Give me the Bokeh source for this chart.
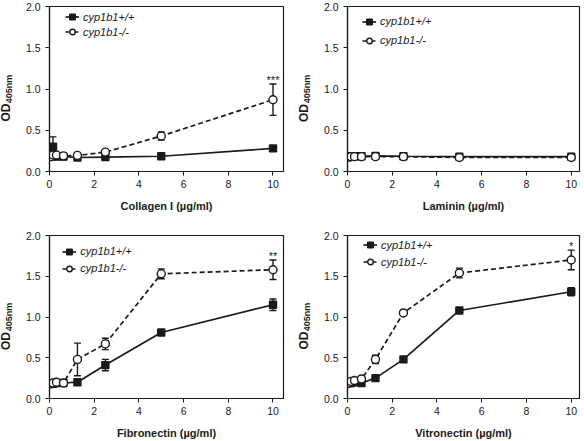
from bokeh.plotting import figure
from bokeh.models import (ColumnDataSource, Whisker, Label, Legend, LegendItem, Title,
                          FixedTicker, NumeralTickFormatter, Range1d, TeeHead)
from bokeh.layouts import gridplot
from bokeh.embed import file_html
from bokeh.resources import INLINE

# ---------------- data ----------------
conc = [0.078, 0.156, 0.3125, 0.625, 1.25, 2.5, 5, 10]
x_ticks = [0, 2, 4, 6, 8, 10]
y_ticks = [0.0, 0.5, 1.0, 1.5, 2.0]
series_names = ["cyp1b1+/+", "cyp1b1-/-"]
x_titles = ["Collagen I (\u00b5g/ml)", "Laminin (\u00b5g/ml)",
            "Fibronectin (\u00b5g/ml)", "Vitronectin (\u00b5g/ml)"]
y_title_main = "OD"
y_title_sub = "405nm"

collagen_wt = [0.18, 0.30, 0.18, 0.18, 0.17, 0.175, 0.185, 0.28]
collagen_wt_err = [0.01, 0.12, 0.01, 0.01, 0.01, 0.01, 0.01, 0.03]
collagen_ko = [0.18, 0.20, 0.20, 0.19, 0.195, 0.235, 0.43, 0.87]
collagen_ko_err = [0.01, 0.01, 0.01, 0.01, 0.01, 0.01, 0.05, 0.19]

laminin_wt = [0.18, 0.185, 0.185, 0.185, 0.19, 0.185, 0.18, 0.18]
laminin_wt_err = [0.01, 0.01, 0.01, 0.01, 0.01, 0.01, 0.01, 0.01]
laminin_ko = [0.175, 0.18, 0.18, 0.18, 0.18, 0.18, 0.17, 0.17]
laminin_ko_err = [0.01, 0.01, 0.01, 0.01, 0.01, 0.01, 0.01, 0.01]

fibronectin_wt = [0.18, 0.18, 0.19, 0.19, 0.20, 0.41, 0.81, 1.15]
fibronectin_wt_err = [0.01, 0.01, 0.01, 0.01, 0.01, 0.07, 0.03, 0.07]
fibronectin_ko = [0.18, 0.19, 0.20, 0.19, 0.48, 0.67, 1.53, 1.58]
fibronectin_ko_err = [0.01, 0.01, 0.01, 0.01, 0.20, 0.07, 0.06, 0.12]

vitronectin_wt = [0.19, 0.19, 0.20, 0.19, 0.25, 0.48, 1.08, 1.31]
vitronectin_wt_err = [0.01, 0.01, 0.01, 0.01, 0.01, 0.01, 0.03, 0.05]
vitronectin_ko = [0.19, 0.21, 0.22, 0.24, 0.48, 1.05, 1.54, 1.70]
vitronectin_ko_err = [0.01, 0.01, 0.01, 0.01, 0.05, 0.02, 0.06, 0.12]

stars = ["***", "", "**", "*"]

# ---------------- layout / style ----------------
FONT = "Liberation Sans"
INK = "#1a1a1a"

panels = [
    dict(wt=collagen_wt, wte=collagen_wt_err, ko=collagen_ko, koe=collagen_ko_err,
         h=220, mbl=49, mbr=9, mbt=5, mbb=49, xmax=10.47, leg=(16, 11.7, 15)),
    dict(wt=laminin_wt, wte=laminin_wt_err, ko=laminin_ko, koe=laminin_ko_err,
         h=220, mbl=55, mbr=5, mbt=6, mbb=49, xmax=10.37, leg=(15, 15.0, 18.6)),
    dict(wt=fibronectin_wt, wte=fibronectin_wt_err, ko=fibronectin_ko, koe=fibronectin_ko_err,
         h=221, mbl=49, mbr=9, mbt=15, mbb=43, xmax=10.47, leg=(13.3, 16.3, 16.7)),
    dict(wt=vitronectin_wt, wte=vitronectin_wt_err, ko=vitronectin_ko, koe=vitronectin_ko_err,
         h=221, mbl=55, mbr=5, mbt=14, mbb=43, xmax=10.37, leg=(16, 10.7, 17.3)),
]

W = 292
figs = []
for i, pd in enumerate(panels):
    p = figure(width=W, height=pd["h"], output_backend="svg", toolbar_location=None,
               x_range=Range1d(0, pd["xmax"]), y_range=Range1d(0, 2.0),
               min_border_left=pd["mbl"], min_border_right=pd["mbr"],
               min_border_top=pd["mbt"], min_border_bottom=pd["mbb"])
    p.background_fill_color = "white"
    p.border_fill_color = "white"
    p.outline_line_color = INK
    p.outline_line_width = 1.2
    p.xgrid.visible = False
    p.ygrid.visible = False

    p.xaxis.ticker = FixedTicker(ticks=x_ticks)
    p.yaxis.ticker = FixedTicker(ticks=y_ticks)
    p.yaxis.formatter = NumeralTickFormatter(format="0.0")
    for ax in (p.xaxis[0], p.yaxis[0]):
        ax.axis_line_color = INK
        ax.axis_line_width = 1.2
        ax.major_tick_line_color = INK
        ax.major_tick_in = 0
        ax.major_tick_out = 4
        ax.minor_tick_line_color = None
        ax.major_label_text_font = FONT
        ax.major_label_text_font_size = "10.5px"
        ax.major_label_text_color = INK
        ax.axis_label_text_font = FONT
        ax.axis_label_text_font_style = "bold"
        ax.axis_label_text_color = INK
    p.xaxis.major_label_standoff = 4
    p.yaxis.major_label_standoff = 5
    p.xaxis.axis_label = x_titles[i]
    p.xaxis.axis_label_text_font_size = "11px"
    p.xaxis.axis_label_standoff = 9

    # y-axis title: subscript as axis label, "OD" as a side title below it
    p.yaxis.axis_label = y_title_sub
    p.yaxis.axis_label_text_font_size = "9px"
    p.yaxis.axis_label_standoff = 9
    frame_h = pd["h"] - pd["mbt"] - pd["mbb"]
    p.add_layout(Title(text=y_title_main, align="left", vertical_align="bottom",
                       offset=frame_h / 2 - 33, standoff=-24, text_font=FONT,
                       text_font_size="12px", text_font_style="bold", text_color=INK), "left")

    renderers = []
    for key, ekey, dash, marker, size, fill in (("wt", "wte", "solid", "square", 7, INK),
                                                 ("ko", "koe", "5 3", "circle", 8, "white")):
        ys = pd[key]
        es = pd[ekey]
        src = ColumnDataSource(dict(x=conc, y=ys))
        bx = [c for c, e in zip(conc, es) if e > 0.015]
        bu = [y + e for y, e in zip(ys, es) if e > 0.015]
        bl = [y - e for y, e in zip(ys, es) if e > 0.015]
        if bx:
            wsrc = ColumnDataSource(dict(base=bx, upper=bu, lower=bl))
            p.add_layout(Whisker(source=wsrc, base="base", upper="upper", lower="lower",
                                 line_color=INK, line_width=1.4, level="underlay",
                                 upper_head=TeeHead(size=7, line_color=INK, line_width=1.4),
                                 lower_head=TeeHead(size=7, line_color=INK, line_width=1.4)))
        ln = p.line("x", "y", source=src, line_color=INK, line_width=1.7, line_dash=dash)
        sc = p.scatter("x", "y", source=src, marker=marker, size=size, fill_color=fill,
                       line_color=INK, line_width=1.4)
        renderers.append([ln, sc])

    # legend
    lx, d1, rowsp = pd["leg"]
    item_h = 15
    spacing = max(int(round(rowsp - item_h)), 0)
    leg_h = 2 * item_h + spacing
    top_off = d1 - item_h / 2
    legend = Legend(items=[LegendItem(label=series_names[0], renderers=renderers[0]),
                           LegendItem(label=series_names[1], renderers=renderers[1])],
                    location=(lx, frame_h - top_off - leg_h),
                    glyph_width=14, glyph_height=item_h, label_height=item_h,
                    label_standoff=4, spacing=spacing, padding=0, margin=0,
                    label_text_font=FONT, label_text_font_style="italic",
                    label_text_font_size="11px", label_text_color=INK,
                    background_fill_alpha=0, border_line_alpha=0)
    p.add_layout(legend)

    if stars[i]:
        top = pd["ko"][-1] + pd["koe"][-1]
        p.add_layout(Label(x=conc[-1], y=top, y_offset=4, text=stars[i], text_align="center",
                           text_baseline="middle", text_font=FONT, text_font_size="11px",
                           text_color=INK))
    figs.append(p)

grid = gridplot([[figs[0], figs[1]], [figs[2], figs[3]]], toolbar_location=None)

open("out.html", "w").write(file_html(grid, INLINE))
